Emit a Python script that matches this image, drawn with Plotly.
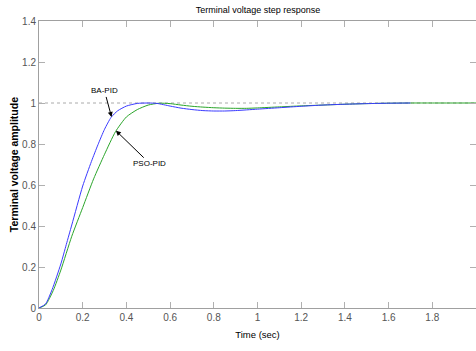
import plotly.graph_objects as go

# Data
t_ba = [0, 0.03, 0.06, 0.10, 0.125, 0.15, 0.20, 0.24, 0.27, 0.30, 0.33, 0.36, 0.40, 0.45, 0.50, 0.54, 0.60, 0.65,
        0.70, 0.75, 0.80, 0.85, 0.90, 1.0, 1.1, 1.2, 1.3, 1.4, 1.5, 1.6, 1.7]
y_ba = [0, 0.02, 0.09, 0.215, 0.31, 0.405, 0.595, 0.715, 0.797, 0.872, 0.93, 0.962, 0.985, 0.998, 1.0, 0.998, 0.985, 0.975,
        0.968, 0.963, 0.961, 0.961, 0.963, 0.970, 0.977, 0.984, 0.990, 0.994, 0.997, 0.999, 1.0]

t_pso = [0, 0.03, 0.065, 0.10, 0.15, 0.20, 0.25, 0.30, 0.35, 0.40, 0.45, 0.50, 0.55, 0.60, 0.65, 0.70,
         0.75, 0.80, 0.85, 0.90, 0.95, 1.0, 1.1, 1.2, 1.3, 1.4, 1.5, 1.6, 1.7, 1.8, 1.9, 2.0]
y_pso = [0, 0.015, 0.085, 0.185, 0.35, 0.49, 0.63, 0.75, 0.86, 0.932, 0.968, 0.99, 0.999, 0.997, 0.99, 0.984,
         0.98, 0.977, 0.975, 0.974, 0.974, 0.976, 0.981, 0.986, 0.99, 0.994, 0.997, 0.999, 1.0, 1.0, 1.0, 1.0]

ref_t = [0, 2]
ref_y = [1, 1]

x_ticks = [0, 0.2, 0.4, 0.6, 0.8, 1, 1.2, 1.4, 1.6, 1.8, 2]
x_tick_text = ["0", "0.2", "0.4", "0.6", "0.8", "1", "1.2", "1.4", "1.6", "1.8", "2"]
y_ticks = [0, 0.2, 0.4, 0.6, 0.8, 1, 1.2, 1.4]
y_tick_text = ["0", "0.2", "0.4", "0.6", "0.8", "1", "1.2", "1.4"]

ba_tip = (0.332, 0.932)
pso_tip = (0.352, 0.865)

narrow = "Liberation Sans Narrow, Arial Narrow, Liberation Sans, Arial, sans-serif"

fig = go.Figure()
fig.add_trace(go.Scatter(x=ref_t, y=ref_y, mode="lines",
                         line=dict(color="#aaaaaa", width=1, dash="dot"), showlegend=False, hoverinfo="skip"))
fig.add_trace(go.Scatter(x=t_pso, y=y_pso, mode="lines", name="PSO-PID",
                         line=dict(color="#2aa52a", width=1, shape="spline", smoothing=0.6), showlegend=False))
fig.add_trace(go.Scatter(x=t_ba, y=y_ba, mode="lines", name="BA-PID",
                         line=dict(color="#3a3aff", width=1, shape="spline", smoothing=0.6), showlegend=False))

fig.add_annotation(x=ba_tip[0], y=ba_tip[1], text="BA-PID", showarrow=True,
                   ax=-7, ay=-26, arrowhead=2, arrowsize=1, arrowwidth=1, arrowcolor="black",
                   font=dict(family=narrow, size=8, color="black"))
fig.add_annotation(x=pso_tip[0], y=pso_tip[1], text="PSO-PID", showarrow=True,
                   ax=34, ay=33, arrowhead=2, arrowsize=1, arrowwidth=1, arrowcolor="black",
                   font=dict(family=narrow, size=8, color="black"))
fig.add_annotation(xref="paper", yref="paper", x=-0.058, y=0.5, xanchor="center", yanchor="middle",
                   text="<b>Terminal voltage amplitude</b>", textangle=-90, showarrow=False,
                   font=dict(family="Liberation Sans, Arial, sans-serif", size=10.5, color="black"))

axis_common = dict(showline=True, linecolor="#a0a0a0", linewidth=1, mirror="ticks", automargin=False,
                   ticks="inside", ticklen=6, tickcolor="#b0b0b0", showgrid=False, zeroline=False,
                   tickfont=dict(family=narrow, size=10, color="#555555"))

fig.update_layout(
    width=476, height=351,
    margin=dict(l=39, r=0, t=21, b=43),
    paper_bgcolor="white", plot_bgcolor="white",
    title=dict(text="Terminal voltage step response", x=0.542, xanchor="center", y=0.972, yanchor="middle",
               font=dict(family=narrow, size=9, color="black")),
    xaxis=dict(range=[0, 2], tickvals=x_ticks, ticktext=x_tick_text,
               title=dict(text="Time (sec)", font=dict(family=narrow, size=9.5, color="black"), standoff=9),
               **axis_common),
    yaxis=dict(range=[0, 1.4], tickvals=y_ticks, ticktext=y_tick_text, **axis_common),
)

fig.write_html("out.html", config={"responsive": False, "displayModeBar": False},
               post_script="document.body.style.margin='0';")
